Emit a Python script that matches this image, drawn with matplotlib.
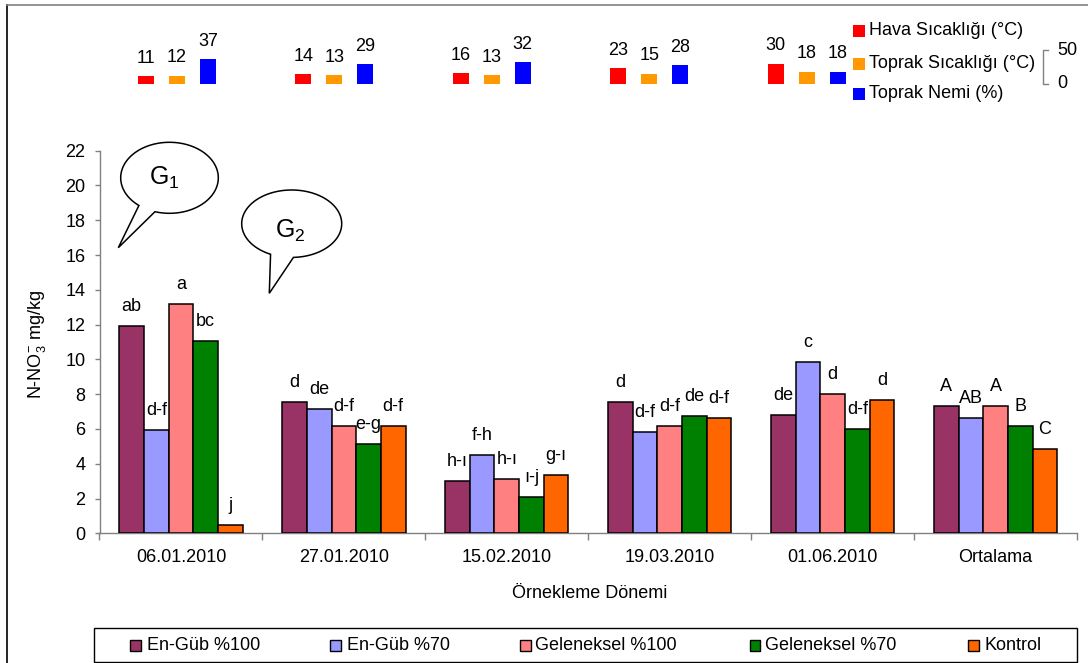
import numpy as np
import matplotlib
matplotlib.use('Agg')
import matplotlib.pyplot as plt
from matplotlib.patches import Rectangle, Polygon
from matplotlib.transforms import blended_transform_factory

plt.rcParams['font.family'] = ['Liberation Sans', 'DejaVu Sans']
plt.rcParams['font.size'] = 13

W, H = 1088, 663

# sampling periods and treatments
dates = ['06.01.2010', '27.01.2010', '15.02.2010', '19.03.2010', '01.06.2010', 'Ortalama']
treatments = ['En-Güb %100', 'En-Güb %70', 'Geleneksel %100', 'Geleneksel %70', 'Kontrol']
colors = ['#993366', '#9999FF', '#FF8080', '#008000', '#FF6600']

# N-NO3 (mg/kg)
en_gub_100 = [11.9, 7.55, 3.02, 7.57, 6.78, 7.30]
en_gub_70 = [5.94, 7.13, 4.48, 5.84, 9.85, 6.61]
geleneksel_100 = [13.2, 6.19, 3.14, 6.19, 7.99, 7.30]
geleneksel_70 = [11.07, 5.15, 2.10, 6.76, 6.01, 6.19]
kontrol = [0.46, 6.19, 3.35, 6.61, 7.65, 4.83]

# significance letters
let_en_gub_100 = ['ab', 'd', 'h-ı', 'd', 'de', 'A']
let_en_gub_70 = ['d-f', 'de', 'f-h', 'd-f', 'c', 'AB']
let_gel_100 = ['a', 'd-f', 'h-ı', 'd-f', 'd', 'A']
let_gel_70 = ['bc', 'e-g', 'ı-j', 'de', 'd-f', 'B']
let_kontrol = ['j', 'd-f', 'g-ı', 'd-f', 'd', 'C']

# climate data for the five sampling dates
hava = [11, 14, 16, 23, 30]
toprak_sic = [12, 13, 13, 15, 18]
toprak_nem = [37, 29, 32, 28, 18]
climate_labels = ['Hava Sıcaklığı (°C)', 'Toprak Sıcaklığı (°C)', 'Toprak Nemi (%)']
climate_colors = ['#FF0000', '#FF9900', '#0000FF']


def fx(xp):
    return xp / W


def fy(yp):
    return 1 - yp / H


fig = plt.figure(figsize=(W / 100, H / 100), dpi=100)

# outer frame (left and top only visible)
fig.add_artist(plt.Line2D([fx(7), fx(7)], [fy(5), 0], color='black', lw=1.2))
fig.add_artist(plt.Line2D([fx(7), 1], [fy(5), fy(5)], color='#808080', lw=1.2))

# main chart
ax = fig.add_axes([fx(99.5), fy(533.3), (1077 - 99.5) / W, (533.3 - 150.7) / H])
x = np.arange(len(dates))
w = 0.1515
series = [en_gub_100, en_gub_70, geleneksel_100, geleneksel_70, kontrol]
letters = [let_en_gub_100, let_en_gub_70, let_gel_100, let_gel_70, let_kontrol]
for i, (vals, c, lets) in enumerate(zip(series, colors, letters)):
    pos = x + (i - 2) * w
    ax.bar(pos, vals, w, color=c, edgecolor='black', linewidth=1.1, zorder=3)
    for p, v, l in zip(pos, vals, lets):
        ax.annotate(l, (p, v), xytext=(0, 10.8), textcoords='offset points',
                    ha='center', va='baseline', fontsize=13)

ax.set_xlim(-0.5, 5.5)
ax.set_ylim(0, 22)
ax.set_yticks(range(0, 23, 2))
ax.set_xticks(x)
ax.set_xticklabels(dates)
ax.set_xticks(np.arange(-0.5, 6, 1), minor=True)
ax.tick_params(axis='x', which='major', length=0, pad=11.6, labelsize=13)
ax.tick_params(axis='x', which='minor', length=5, width=1, color='#808080')
ax.tick_params(axis='y', length=3.6, width=1, color='#808080', pad=6.5, labelsize=13)
for s in ['top', 'right']:
    ax.spines[s].set_visible(False)
for s in ['left', 'bottom']:
    ax.spines[s].set_color('#808080')
    ax.spines[s].set_linewidth(1)

fig.text(fx(36.7), fy(345), 'N-NO$\\mathregular{_3^{-}}$ mg/kg', rotation=90,
         ha='center', va='center', fontsize=13)
fig.text(fx(590), fy(594), 'Örnekleme Dönemi', ha='center', va='center', fontsize=13)


# speech bubbles
def bubble(cx, cy, a, b, t1, t2, tip, label, tx, ty):
    ts = np.linspace(np.radians(t1), np.radians(t2) + 2 * np.pi, 300)
    pts = [(fx(cx + a * np.cos(t)), fy(cy + b * np.sin(t))) for t in ts]
    pts.append((fx(tip[0]), fy(tip[1])))
    fig.add_artist(Polygon(pts, closed=True, facecolor='white', edgecolor='black',
                           lw=1.1, transform=fig.transFigure, zorder=5))
    fig.text(fx(tx), fy(ty), label, ha='center', va='baseline', fontsize=18, zorder=6)


bubble(169.5, 177.8, 48.8, 35.5, 128.8, 107.3, (118.3, 247.7),
       '$\\mathregular{G_1}$', 164, 185)
bubble(291.7, 223.7, 50, 33.7, 115, 88, (269.3, 293.3),
       '$\\mathregular{G_2}$', 290, 237.3)

# climate mini chart
axt = fig.add_axes([fx(98.3), fy(83.7), 787 / W, 33.3 / H])
axt.set_xlim(-0.5, 4.5)
axt.set_ylim(0, 50)
axt.axis('off')
xc = np.arange(len(hava))
bw = 0.102
for j, (vals, c) in enumerate(zip([hava, toprak_sic, toprak_nem], climate_colors)):
    pos = xc + (j - 1) * 0.197
    axt.bar(pos, vals, bw, color=c, edgecolor='none')
    for p, v in zip(pos, vals):
        axt.annotate(str(v), (p, v), xytext=(0, 9.6), textcoords='offset points',
                     ha='center', va='baseline', fontsize=13, annotation_clip=False)

# scale bracket for mini chart
tr = blended_transform_factory(fig.transFigure, axt.transData)
axt.plot([fx(1048.3), fx(1042.7), fx(1042.7), fx(1048.3)], [50, 50, 0, 0],
         transform=tr, color='#808080', lw=1, clip_on=False)
axt.text(fx(1057), 50, '50', transform=tr, ha='left', va='center', fontsize=13)
axt.text(fx(1057), 0, '0', transform=tr, ha='left', va='center', fontsize=13)

# climate legend
for c, lbl, yc in zip(climate_colors, climate_labels, [30.8, 64, 94]):
    fig.add_artist(Rectangle((fx(853.3), fy(yc + 5.8)), 11.7 / W, 11.7 / H,
                             facecolor=c, edgecolor='none', transform=fig.transFigure))
    fig.text(fx(869), fy(yc), lbl, ha='left', va='center', fontsize=13)

# treatment legend
fig.add_artist(Rectangle((fx(94), fy(661.7)), (1077 - 94) / W, (661.7 - 628.3) / H,
                         facecolor='white', edgecolor='black', lw=1,
                         transform=fig.transFigure))
sq_x = [130, 330, 520, 749.5, 968.3]
tx_x = [146.7, 347, 535, 765, 985]
for c, lbl, sx, tx in zip(colors, treatments, sq_x, tx_x):
    fig.add_artist(Rectangle((fx(sx), fy(650.7)), 10.7 / W, 10.7 / H,
                             facecolor=c, edgecolor='black', lw=1,
                             transform=fig.transFigure))
    fig.text(fx(tx), fy(645), lbl, ha='left', va='center', fontsize=13)

fig.savefig('out.png', dpi=100)
